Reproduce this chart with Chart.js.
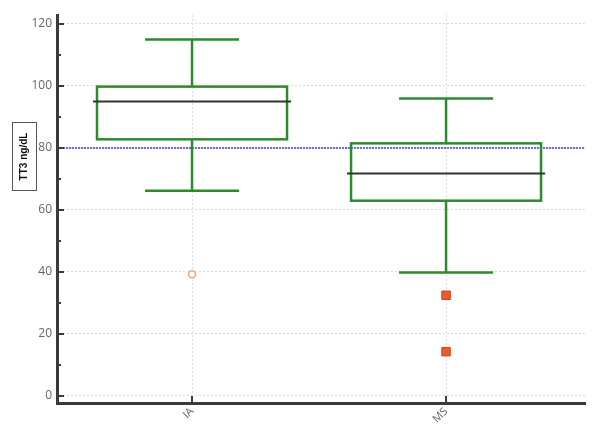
<!DOCTYPE html>
<html>
<head>
<meta charset="utf-8">
<script src="https://cdn.jsdelivr.net/npm/chart.js@4/dist/chart.umd.min.js"></script>
<style>
  html, body { margin: 0; padding: 0; background: #fff; }
  #wrap { width: 602px; height: 437px; }
</style>
</head>
<body>
<div id="wrap"><canvas id="chart" width="602" height="437"></canvas></div>
<script>
// box plot data
const categories = ['IA', 'MS'];
const catPos = [1, 2];
const whiskerLow = [66.2, 39.8];
const q1 = [82.8, 63.0];
const median = [95.0, 71.8];
const q3 = [99.8, 81.5];
const whiskerHigh = [115.0, 96.0];
const outliersIA = [39.3];
const outliersMS = [32.5, 14.3];
const refValue = 80;
const yTickValues = [0, 10, 20, 30, 40, 50, 60, 70, 80, 90, 100, 110, 120];

const X_MIN = 0.4685, X_MAX = 2.547;
const Y_MIN = -2.26, Y_MAX = 122.9;

// box drawing, axis ticks and the boxed y title
const boxPlugin = {
  id: 'boxes',
  afterDatasetsDraw(chart) {
    const { ctx, scales: { x, y } } = chart;
    ctx.save();
    categories.forEach((c, i) => {
      const cx = x.getPixelForValue(catPos[i]);
      const bl = x.getPixelForValue(catPos[i] - 0.374);
      const br = x.getPixelForValue(catPos[i] + 0.374);
      const cl = x.getPixelForValue(catPos[i] - 0.185);
      const cr = x.getPixelForValue(catPos[i] + 0.185);
      const yq1 = y.getPixelForValue(q1[i]);
      const yq3 = y.getPixelForValue(q3[i]);
      const ylo = y.getPixelForValue(whiskerLow[i]);
      const yhi = y.getPixelForValue(whiskerHigh[i]);
      ctx.strokeStyle = '#2d8a2d';
      ctx.lineWidth = 2.5;
      ctx.setLineDash([]);
      ctx.beginPath();
      ctx.moveTo(cx, yq3); ctx.lineTo(cx, yhi);
      ctx.moveTo(cl, yhi); ctx.lineTo(cr, yhi);
      ctx.moveTo(cx, yq1); ctx.lineTo(cx, ylo);
      ctx.moveTo(cl, ylo); ctx.lineTo(cr, ylo);
      ctx.stroke();
      ctx.strokeRect(bl, yq3, br - bl, yq1 - yq3);
      // median
      const ml = x.getPixelForValue(catPos[i] - 0.39);
      const mr = x.getPixelForValue(catPos[i] + 0.39);
      const ym = y.getPixelForValue(median[i]);
      ctx.strokeStyle = '#333';
      ctx.lineWidth = 2;
      ctx.beginPath();
      ctx.moveTo(ml, ym); ctx.lineTo(mr, ym);
      ctx.stroke();
    });
    ctx.restore();
  },
  afterDraw(chart) {
    const { ctx, chartArea, scales: { x, y } } = chart;
    ctx.save();
    ctx.strokeStyle = '#3a3a3a';
    ctx.lineWidth = 2;
    ctx.beginPath();
    yTickValues.forEach(v => {
      const py = y.getPixelForValue(v);
      const len = v % 20 === 0 ? 7 : 4;
      ctx.moveTo(chartArea.left, py);
      ctx.lineTo(chartArea.left + len, py);
    });
    catPos.forEach(v => {
      const px = x.getPixelForValue(v);
      ctx.moveTo(px, chartArea.bottom);
      ctx.lineTo(px, chartArea.bottom - 7);
    });
    ctx.stroke();

    // y title in a box
    ctx.strokeStyle = '#555';
    ctx.lineWidth = 1;
    ctx.strokeRect(12.5, 122.5, 24, 68);
    ctx.translate(24.5, 156.5);
    ctx.rotate(-Math.PI / 2);
    ctx.fillStyle = '#111';
    ctx.font = 'bold 10px "Liberation Sans", Arial, sans-serif';
    ctx.textAlign = 'center';
    ctx.textBaseline = 'middle';
    ctx.fillText('TT3 ng/dL', 0, 0);
    ctx.restore();
  }
};

new Chart(document.getElementById('chart'), {
  type: 'scatter',
  data: {
    datasets: [
      {
        type: 'line',
        data: [{ x: X_MIN, y: refValue }, { x: X_MAX, y: refValue }],
        borderColor: '#6b6bdc',
        borderWidth: 2,
        borderDash: [2, 1],
        pointRadius: 0,
        order: 3
      },
      {
        data: outliersIA.map(v => ({ x: catPos[0], y: v })),
        pointStyle: 'circle',
        pointRadius: 3.5,
        backgroundColor: '#fff',
        borderColor: '#f0a478',
        borderWidth: 1.5,
        order: 1
      },
      {
        data: outliersMS.map(v => ({ x: catPos[1], y: v })),
        pointStyle: 'rect',
        pointRadius: 6,
        backgroundColor: '#ea5b2e',
        borderColor: '#c8461e',
        borderWidth: 1,
        order: 1
      }
    ]
  },
  options: {
    responsive: false,
    animation: false,
    events: [],
    layout: { padding: { top: 15, right: 17, left: 0, bottom: 0 } },
    plugins: {
      legend: { display: false },
      tooltip: { enabled: false }
    },
    scales: {
      x: {
        type: 'linear',
        min: X_MIN,
        max: X_MAX,
        afterBuildTicks: s => { s.ticks = catPos.map(v => ({ value: v })); },
        afterFit: s => { s.height = 34; },
        ticks: {
          callback: v => categories[catPos.indexOf(v)],
          minRotation: 45,
          maxRotation: 45,
          padding: 2,
          color: '#666',
          font: { family: '"Open Sans", sans-serif', size: 11 }
        },
        grid: { color: '#dddddd', drawTicks: false, lineWidth: 1 },
        border: { display: true, color: '#3a3a3a', width: 3, dash: [2, 2] }
      },
      y: {
        min: Y_MIN,
        max: Y_MAX,
        afterBuildTicks: s => { s.ticks = yTickValues.map(v => ({ value: v })); },
        afterFit: s => { s.width = 57; },
        ticks: {
          callback: v => (v % 20 === 0 ? v : ''),
          padding: 5,
          color: '#666',
          font: { family: '"Open Sans", sans-serif', size: 12 }
        },
        grid: {
          color: c => (c.tick && c.tick.value % 20 === 0 ? '#dddddd' : 'rgba(0,0,0,0)'),
          drawTicks: false,
          lineWidth: 1
        },
        border: { display: true, color: '#3a3a3a', width: 3, dash: [2, 2] }
      }
    }
  },
  plugins: [boxPlugin]
});
</script>
</body>
</html>
